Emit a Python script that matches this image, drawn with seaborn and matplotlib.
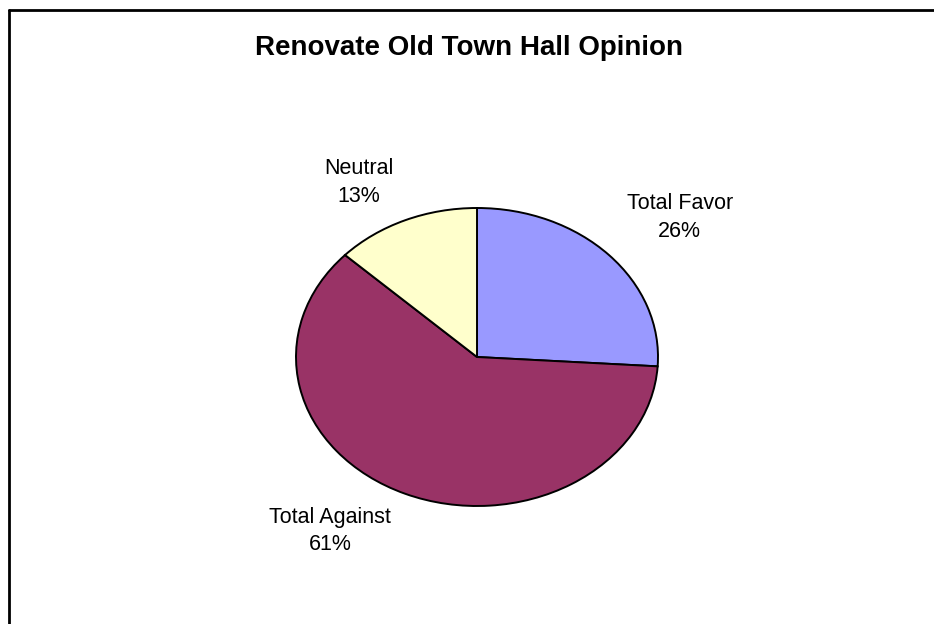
import matplotlib
matplotlib.use("Agg")
import matplotlib.pyplot as plt
import seaborn as sns

categories = ["Total Favor", "Total Against", "Neutral"]
shares = [26, 61, 13]
colors = ["#9999FF", "#993366", "#FFFFCC"]

sns.set_theme(style="white")
plt.rcParams["font.family"] = ["Liberation Sans", "DejaVu Sans"]

fig = plt.figure(figsize=(9.34, 6.24), dpi=100)
fig.patch.set_facecolor("white")

# frame of the chart area (left and top edges visible)
fig.add_artist(plt.Line2D([8.5 / 934, 8.5 / 934], [0, 1 - 9.5 / 624],
                          transform=fig.transFigure, color="black", lw=2))
fig.add_artist(plt.Line2D([8.5 / 934, 1], [1 - 9.5 / 624, 1 - 9.5 / 624],
                          transform=fig.transFigure, color="black", lw=2))

fig.text(469 / 934, 1 - 48 / 624, "Renovate Old Town Hall Opinion",
         ha="center", va="center", fontsize=20, fontweight="bold", color="black")

ax = fig.add_axes([296 / 934, 1 - 506 / 624, 362 / 934, 298 / 624])
ax.pie(shares, colors=colors, startangle=90, counterclock=False,
       wedgeprops=dict(edgecolor="black", linewidth=1.4))
ax.set_aspect("auto")
ax.set_xlim(-1, 1)
ax.set_ylim(-1, 1)
ax.axis("off")

label_pos = [(1.12, 0.936), (-0.812, -1.168), (-0.652, 1.171)]
for name, val, (lx, ly) in zip(categories, shares, label_pos):
    ax.text(lx, ly, f"{name}\n{val}%", ha="center", va="center",
            fontsize=15.5, color="black", linespacing=1.4, clip_on=False)

fig.savefig("out.png", dpi=100, facecolor="white")
